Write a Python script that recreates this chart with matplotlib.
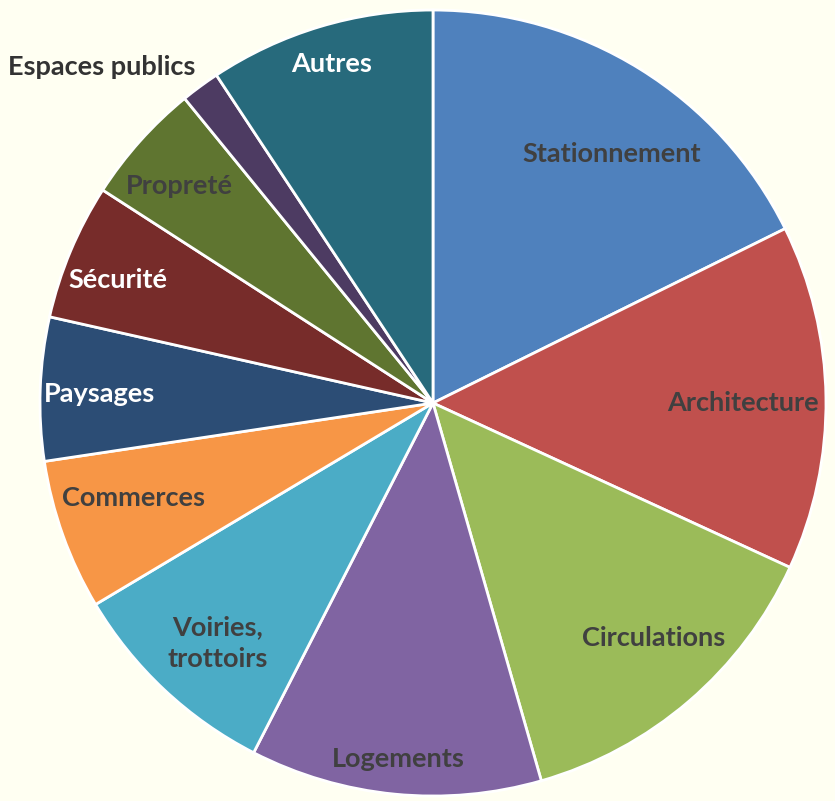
import numpy as np
from matplotlib import pyplot as plt

categories = ['Stationnement', 'Architecture', 'Circulations', 'Logements',
              'Voiries,\ntrottoirs', 'Commerces', 'Paysages', 'Sécurité',
              'Propreté', 'Espaces publics', 'Autres']
shares = [17.7, 14.2, 13.7, 12.0, 8.9, 6.2, 5.9, 5.6, 5.0, 1.6, 9.3]

colors = ['#4F81BD', '#C0504D', '#9BBB59', '#8064A2', '#4BACC6', '#F79646',
          '#2C4D75', '#772C2A', '#5F7530', '#4D3B62', '#276A7C']
text_colors = ['#404040', '#404040', '#404040', '#404040', '#404040', '#404040',
               'white', 'white', '#404040', '#333333', 'white']
# radial position of each label (fraction of radius) and angle tweak in degrees
label_r = [0.78, 0.79, 0.82, 0.91, 0.82, 0.80, 0.85, 0.86, 0.85, 1.20, 0.90]
label_dang = [-3.8, -0.8, 2.6, 0, 1.2, -2.1, 0.5, 1.4, 1.3, 8.3, 0]

bg = '#FFFFF2'
fig = plt.figure(figsize=(8.35, 8.01), dpi=100, facecolor=bg)
ax = fig.add_axes([0.0479, 0.0062, 0.9413, 0.9813])
ax.set_facecolor(bg)

wedges, _ = ax.pie(shares, colors=colors, startangle=90, counterclock=False,
                   radius=1.0, wedgeprops=dict(edgecolor='white', linewidth=2))

for w, lab, tc, r, da in zip(wedges, categories, text_colors, label_r, label_dang):
    ang = np.deg2rad((w.theta1 + w.theta2) / 2 + da)
    x, y = r * np.cos(ang), r * np.sin(ang)
    ax.text(x, y, lab, ha='center', va='center', color=tc, fontsize=19.5,
            fontweight='bold', family=['Lato', 'DejaVu Sans'],
            linespacing=1.4, clip_on=False)

ax.set_xlim(-1, 1)
ax.set_ylim(-1, 1)
ax.set_aspect('equal')
ax.axis('off')

fig.savefig('out.png', dpi=100, facecolor=bg)
